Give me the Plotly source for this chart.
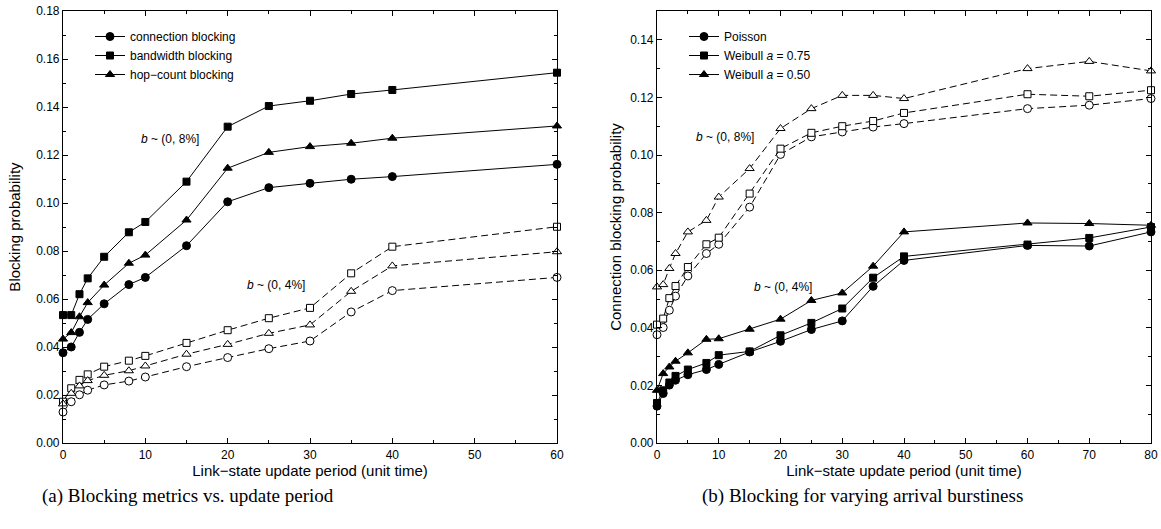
import plotly.graph_objects as go

# ---------------- data: panel (a) ----------------
period_a = [0, 1, 2, 3, 5, 8, 10, 15, 20, 25, 30, 35, 40, 60]
conn_8 = [0.0376, 0.0400, 0.0461, 0.0515, 0.0580, 0.0660, 0.0690, 0.0822, 0.1005, 0.1064, 0.1082, 0.1099, 0.1110, 0.1161]
bw_8 = [0.0533, 0.0533, 0.0620, 0.0686, 0.0776, 0.0878, 0.0921, 0.1089, 0.1318, 0.1404, 0.1426, 0.1454, 0.1471, 0.1543]
hop_8 = [0.0433, 0.0460, 0.0526, 0.0585, 0.0658, 0.0749, 0.0783, 0.0929, 0.1145, 0.1211, 0.1235, 0.1249, 0.1270, 0.1321]
conn_4 = [0.0129, 0.0172, 0.0201, 0.0220, 0.0242, 0.0258, 0.0275, 0.0318, 0.0356, 0.0393, 0.0425, 0.0546, 0.0635, 0.0690]
bw_4 = [0.0172, 0.0228, 0.0263, 0.0286, 0.0318, 0.0343, 0.0363, 0.0417, 0.0470, 0.0520, 0.0563, 0.0707, 0.0818, 0.0901]
hop_4 = [0.0163, 0.0207, 0.0238, 0.0260, 0.0282, 0.0301, 0.0321, 0.0370, 0.0411, 0.0457, 0.0492, 0.0632, 0.0738, 0.0797]

# ---------------- data: panel (b) ----------------
period_b = [0, 1, 2, 3, 5, 8, 10, 15, 20, 25, 30, 35, 40, 60, 70, 80]
poisson_8 = [0.0376, 0.0401, 0.0461, 0.0510, 0.0580, 0.0658, 0.0690, 0.0819, 0.1002, 0.1063, 0.1080, 0.1097, 0.1109, 0.1161, 0.1173, 0.1196]
weib75_8 = [0.0411, 0.0432, 0.0503, 0.0545, 0.0611, 0.0690, 0.0713, 0.0866, 0.1022, 0.1077, 0.1100, 0.1118, 0.1146, 0.1211, 0.1204, 0.1225]
weib50_8 = [0.0542, 0.0550, 0.0606, 0.0658, 0.0733, 0.0773, 0.0854, 0.0953, 0.1092, 0.1161, 0.1207, 0.1207, 0.1196, 0.1300, 0.1325, 0.1292]
poisson_4 = [0.0128, 0.0172, 0.0201, 0.0218, 0.0237, 0.0255, 0.0273, 0.0316, 0.0353, 0.0394, 0.0424, 0.0544, 0.0634, 0.0686, 0.0684, 0.0733]
weib75_4 = [0.0139, 0.0183, 0.0210, 0.0233, 0.0255, 0.0278, 0.0305, 0.0318, 0.0374, 0.0417, 0.0467, 0.0574, 0.0648, 0.0689, 0.0712, 0.0750]
weib50_4 = [0.0183, 0.0241, 0.0264, 0.0284, 0.0313, 0.0360, 0.0362, 0.0395, 0.0430, 0.0495, 0.0521, 0.0614, 0.0733, 0.0764, 0.0762, 0.0756]

names_a = ["connection blocking", "bandwidth blocking", "hop\u2212count blocking"]
names_b = ["Poisson", "Weibull <i>a</i> = 0.75", "Weibull <i>a</i> = 0.50"]
symbols = ["circle", "square", "triangle-up"]
sizes = [8, 7, 8]

FONT = "Liberation Sans, Arial, sans-serif"
fig = go.Figure()


def add_series(x, y, name, sym, size, filled, xa, ya, legend, show):
    fig.add_trace(go.Scatter(
        x=x, y=y, name=name, mode="lines+markers", cliponaxis=False,
        xaxis=xa, yaxis=ya, legend=legend, showlegend=show,
        line=dict(color="black", width=1, dash="solid" if filled else "7px,4px"),
        marker=dict(symbol=sym, size=size,
                    color="black" if filled else "white",
                    line=dict(color="black", width=1)),
    ))


# panel (a)
for ys, nm, sym, sz in zip([conn_8, bw_8, hop_8], names_a, symbols, sizes):
    add_series(period_a, ys, nm, sym, sz, True, "x", "y", "legend", True)
for ys, nm, sym, sz in zip([conn_4, bw_4, hop_4], names_a, symbols, sizes):
    add_series(period_a, ys, nm, sym, sz, False, "x", "y", "legend", False)

# panel (b)
for ys, nm, sym, sz in zip([poisson_4, weib75_4, weib50_4], names_b, symbols, sizes):
    add_series(period_b, ys, nm, sym, sz, True, "x2", "y2", "legend2", True)
for ys, nm, sym, sz in zip([poisson_8, weib75_8, weib50_8], names_b, symbols, sizes):
    add_series(period_b, ys, nm, sym, sz, False, "x2", "y2", "legend2", False)

W, H = 1161, 529
T = 11
B = H - 443
plot_h = H - T - B


def px_x(px):
    return px / W


def xaxis(domain, rng, anchor):
    return dict(
        domain=domain, range=rng, anchor=anchor, dtick=10, tick0=0,
        ticks="inside", ticklen=5, tickwidth=1, tickcolor="black",
        minor=dict(dtick=5, ticks="inside", ticklen=3, tickcolor="black"),
        showline=True, linecolor="black", linewidth=1.2, mirror="ticks",
        showgrid=False, zeroline=False, automargin=False, ticklabeloverflow="allow",
        tickfont=dict(family=FONT, size=12, color="black"),
        title=dict(text="Link\u2212state update period (unit time)",
                   font=dict(family=FONT, size=15, color="black"), standoff=1),
    )


def yaxis(rng, anchor, title, standoff):
    return dict(
        range=rng, anchor=anchor, dtick=0.02, tick0=0, tickformat=".2f",
        ticks="inside", ticklen=5, tickwidth=1, tickcolor="black",
        minor=dict(dtick=0.01, ticks="inside", ticklen=3, tickcolor="black"),
        showline=True, linecolor="black", linewidth=1.2, mirror="ticks",
        showgrid=False, zeroline=False, automargin=False, ticklabeloverflow="allow",
        tickfont=dict(family=FONT, size=12, color="black"),
        title=dict(text=title, font=dict(family=FONT, size=15, color="black"), standoff=standoff),
    )


def legend_at(px, py):
    return dict(
        x=px_x(px), y=1 - (py - T) / plot_h, xref="paper", yref="paper",
        xanchor="left", yanchor="top", bgcolor="rgba(0,0,0,0)",
        font=dict(family=FONT, size=12, color="black"), itemwidth=30,
    )


fig.update_layout(
    width=W, height=H,
    margin=dict(l=0, r=0, t=T, b=B),
    paper_bgcolor="white", plot_bgcolor="white",
    xaxis=xaxis([px_x(63), px_x(557)], [0, 60], "y"),
    yaxis=yaxis([0, 0.18], "x", "Blocking probability", 11),
    xaxis2=xaxis([px_x(657), px_x(1151)], [0, 80], "y2"),
    yaxis2=yaxis([0, 0.15], "x2", "Connection blocking probability", 4),
    legend=legend_at(90, 22),
    legend2=legend_at(684, 22),
)

ann_font = dict(family=FONT, size=12, color="black")
fig.add_annotation(x=13, y=0.1267, xref="x", yref="y", text="<i>b</i> ~ (0, 8%]",
                   showarrow=False, font=ann_font)
fig.add_annotation(x=25.9, y=0.0658, xref="x", yref="y", text="<i>b</i> ~ (0, 4%]",
                   showarrow=False, font=ann_font)
fig.add_annotation(x=11.0, y=0.1063, xref="x2", yref="y2", text="<i>b</i> ~ (0, 8%]",
                   showarrow=False, font=ann_font)
fig.add_annotation(x=20.4, y=0.054, xref="x2", yref="y2", text="<i>b</i> ~ (0, 4%]",
                   showarrow=False, font=ann_font)

cap_font = dict(family="Liberation Serif, Times New Roman, serif", size=19, color="black")
cap_y = (443 - 496) / plot_h
fig.add_annotation(x=px_x(188), y=cap_y, xref="paper", yref="paper",
                   xanchor="center", yanchor="middle",
                   text="(a) Blocking metrics vs. update period", showarrow=False, font=cap_font)
fig.add_annotation(x=px_x(862), y=cap_y, xref="paper", yref="paper",
                   xanchor="center", yanchor="middle",
                   text="(b) Blocking for varying arrival burstiness", showarrow=False, font=cap_font)

# remove the browser's default 8px body margin so the figure fills the window exactly
fig.write_html("out.html", config={"displayModeBar": False},
               post_script="document.body.style.margin='0';")
